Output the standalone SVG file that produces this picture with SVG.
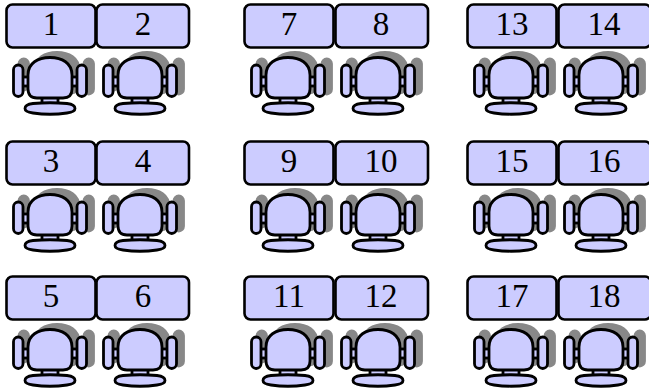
<svg xmlns="http://www.w3.org/2000/svg" width="649" height="392" viewBox="0 0 649 392">
<style>
.d{fill:#ccf;stroke:#000;stroke-width:2.6}
.c{fill:#ccf;stroke:#000;stroke-width:2.8}
.s{fill:#888;stroke:#888;stroke-width:2.8}
text{font-family:"Liberation Serif","Times New Roman",serif;font-size:33px;text-anchor:middle;fill:#000}
</style>
<defs>
<path id="seat" d="M28 75C28 63 38 57.500 50 57.500C62 57.500 72 63 72 75V89Q72 98 63 98H37Q28 98 28 89Z"/>
<g id="chair">
<g class="s">
<use href="#seat" x="7" y="-5"/>
<rect x="19" y="59" width="9.500" height="31" rx="4.700"/>
<rect x="84" y="59" width="9.500" height="35" rx="4.700"/>
</g>
<rect class="c" x="22" y="77" width="7" height="9"/>
<rect class="c" x="71" y="77" width="7" height="9"/>
<rect class="c" x="42" y="97" width="16" height="7"/>
<rect class="c" x="13.500" y="65" width="9.500" height="31.500" rx="4.700"/>
<rect class="c" x="77" y="65" width="9.500" height="31.500" rx="4.700"/>
<use class="c" href="#seat"/>
<path class="c" d="M33 103.500Q50 102 67 103.500Q75 104.500 75 108.500Q75 112 67 113Q50 115.500 33 113Q25 112 25 108.500Q25 104.500 33 103.500Z"/>
</g>
<rect id="desk" class="d" x="0.500" y="0.500" width="89" height="43" rx="6"/>
<rect id="desk2" class="d" x="0.500" y="0.500" width="92.500" height="43" rx="6"/>
</defs>
<g id="connectors"/>
<g id="n1"><use href="#chair" x="0" y="0"/><use href="#desk" x="6" y="4"/><text x="51" y="35">1</text></g>
<g id="n2"><use href="#chair" x="90" y="0"/><use href="#desk2" x="96" y="4"/><text x="143" y="35">2</text></g>
<g id="n3"><use href="#chair" x="0" y="137"/><use href="#desk" x="6" y="141"/><text x="51" y="172">3</text></g>
<g id="n4"><use href="#chair" x="90" y="137"/><use href="#desk2" x="96" y="141"/><text x="143" y="172">4</text></g>
<g id="n5"><use href="#chair" x="0" y="272"/><use href="#desk" x="6" y="276"/><text x="51" y="307">5</text></g>
<g id="n6"><use href="#chair" x="90" y="272"/><use href="#desk2" x="96" y="276"/><text x="143" y="307">6</text></g>
<g id="n7"><use href="#chair" x="238" y="0"/><use href="#desk" x="244" y="4"/><text x="289" y="35">7</text></g>
<g id="n8"><use href="#chair" x="328" y="0"/><use href="#desk2" x="335" y="4"/><text x="381" y="35">8</text></g>
<g id="n9"><use href="#chair" x="238" y="137"/><use href="#desk" x="244" y="141"/><text x="289" y="172">9</text></g>
<g id="n10"><use href="#chair" x="328" y="137"/><use href="#desk2" x="335" y="141"/><text x="381" y="172">10</text></g>
<g id="n11"><use href="#chair" x="238" y="272"/><use href="#desk" x="244" y="276"/><text x="289" y="307">11</text></g>
<g id="n12"><use href="#chair" x="328" y="272"/><use href="#desk2" x="335" y="276"/><text x="381" y="307">12</text></g>
<g id="n13"><use href="#chair" x="461" y="0"/><use href="#desk" x="467" y="4"/><text x="512" y="35">13</text></g>
<g id="n14"><use href="#chair" x="551" y="0"/><use href="#desk2" x="558" y="4"/><text x="604" y="35">14</text></g>
<g id="n15"><use href="#chair" x="461" y="137"/><use href="#desk" x="467" y="141"/><text x="512" y="172">15</text></g>
<g id="n16"><use href="#chair" x="551" y="137"/><use href="#desk2" x="558" y="141"/><text x="604" y="172">16</text></g>
<g id="n17"><use href="#chair" x="461" y="272"/><use href="#desk" x="467" y="276"/><text x="512" y="307">17</text></g>
<g id="n18"><use href="#chair" x="551" y="272"/><use href="#desk2" x="558" y="276"/><text x="604" y="307">18</text></g>
</svg>
